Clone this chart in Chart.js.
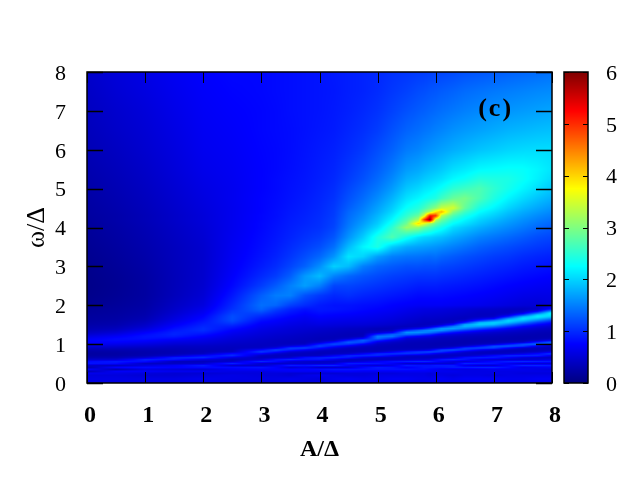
<!DOCTYPE html>
<html>
<head>
<meta charset="utf-8">
<style>
html,body{margin:0;padding:0;background:#fff;}
canvas{display:block;}
</style>
<script src="https://cdn.jsdelivr.net/npm/chart.js@4"></script>
</head>
<body>
<canvas id="map" width="640" height="480"></canvas>
<script>
// ---------- DATA ----------
const xTicks = [0,1,2,3,4,5,6,7,8];
const yTicks = [0,1,2,3,4,5,6,7,8];
const barTicks = [0,1,2,3,4,5,6];
const xTitle = "A/Δ";
const yTitle = "ω/Δ";
const panelLabel = "(c)";
const panelPos = [7.03,7.05];

// sample positions
const aValues = [0,.5,1,1.5,2,2.5,3,3.25,3.5,3.75,4,4.25,4.5,4.75,5,5.25,5.5,5.7,5.8,5.9,6,6.1,6.3,6.5,6.75,7,7.25,7.5,7.75,8];
const omegaValues = [0,.1,.2,.25,.3,.35,.4,.45,.5,.55,.6,.65,.7,.75,.8,.85,.9,.95,1,1.05,1.1,1.15,1.2,1.25,1.3,1.35,1.4,1.45,1.5,1.55,1.6,1.65,1.7,1.75,1.8,1.85,1.9,
  2,2.25,2.5,2.75,3,3.25,3.5,3.75,4,4.1,4.2,4.3,4.4,4.5,4.75,5,5.25,5.5,6,6.5,7,7.5,8];

// one list per A value, running up omegaValues
const columns = [
 [.55,.6,.55,.65,.3,.75,.3,.45,.85,.8,.45,.3,.22,.2,.22,.28,.4,.55,.68,.75,.75,.68,.58,.48,.4,.34,.3,.27,.24,.22,.2,.19,.18,.17,.16,.15,.15,
  .1,.07,.06,.07,.08,.1,.12,.14,.16,.17,.18,.19,.2,.2,.22,.24,.26,.28,.32,.35,.38,.41,.44],
 [.55,.6,.55,.6,.7,.3,.75,.4,.8,.9,.5,.32,.24,.22,.24,.3,.4,.52,.64,.74,.8,.78,.7,.6,.5,.42,.36,.32,.28,.26,.24,.22,.21,.2,.19,.18,.18,
  .16,.13,.12,.13,.15,.17,.19,.21,.23,.24,.25,.25,.26,.27,.29,.31,.33,.35,.39,.43,.46,.5,.53],
 [.55,.6,.5,.55,.7,.6,.8,.55,.4,.8,.95,.5,.3,.27,.27,.31,.38,.48,.58,.68,.77,.84,.85,.8,.72,.62,.54,.47,.42,.38,.34,.31,.29,.27,.26,.25,.24,
  .22,.2,.2,.21,.23,.25,.27,.29,.31,.32,.33,.33,.34,.35,.37,.39,.41,.43,.47,.5,.53,.57,.6],
 [.55,.6,.5,.5,.65,.55,.75,.7,.4,.35,.85,.95,.45,.32,.3,.32,.36,.41,.5,.58,.68,.8,.9,.95,.93,.88,.82,.76,.7,.65,.6,.56,.53,.5,.47,.45,.43,
  .4,.35,.34,.34,.35,.36,.37,.39,.41,.42,.43,.43,.44,.45,.47,.49,.51,.53,.56,.59,.62,.65,.68],
 [.55,.65,.55,.5,.65,.5,.8,.9,.45,.35,.55,1,.8,.4,.34,.35,.38,.41,.48,.54,.6,.67,.75,.84,.93,1,1,.97,.93,.89,.84,.8,.76,.72,.68,.65,.62,
  .56,.5,.47,.46,.46,.46,.47,.49,.51,.52,.53,.53,.54,.55,.57,.59,.61,.63,.66,.68,.7,.72,.74],
 [.55,.6,.6,.55,.6,.7,.8,.45,.95,.45,.35,.55,1,.85,.42,.36,.37,.39,.42,.46,.5,.54,.58,.63,.68,.74,.82,.9,1,1.1,1.18,1.2,1.2,1.17,1.12,1.08,1.03,
  .98,.87,.78,.73,.7,.68,.67,.66,.65,.65,.65,.65,.65,.65,.66,.66,.67,.68,.7,.72,.74,.76,.78],
 [.5,.6,.55,.55,.6,.75,.85,.45,.45,1,.5,.36,.38,.7,1.1,.8,.42,.38,.39,.41,.43,.46,.49,.52,.55,.58,.62,.66,.7,.75,.81,.88,.96,1.05,1.15,1.26,1.34,
  1.4,1.3,1.1,.98,.9,.85,.82,.8,.78,.78,.77,.77,.76,.76,.76,.75,.75,.75,.76,.77,.77,.78,.78],
 [.55,.6,.55,.55,.65,.75,.75,.65,.42,.8,.85,.4,.35,.45,.85,1.15,.6,.4,.38,.38,.4,.43,.45,.48,.51,.54,.57,.61,.66,.7,.74,.79,.85,.91,.98,1.05,1.13,
  1.35,1.48,1.28,1.1,1,.94,.9,.87,.85,.84,.83,.82,.82,.81,.8,.79,.79,.78,.78,.79,.79,.8,.8],
 [.55,.65,.5,.5,.7,.75,.5,.9,.45,.5,1,.5,.35,.36,.5,.95,1.1,.55,.38,.36,.38,.4,.42,.45,.48,.5,.53,.56,.6,.63,.67,.71,.75,.8,.85,.9,.95,
  1.12,1.5,1.5,1.3,1.15,1.06,1,.95,.92,.91,.9,.89,.88,.87,.85,.84,.83,.82,.81,.81,.82,.82,.82],
 [.55,.6,.6,.5,.7,.75,.6,.85,.45,.45,.85,.85,.38,.35,.42,.7,1.15,.75,.4,.35,.36,.37,.39,.41,.44,.47,.5,.53,.56,.59,.62,.65,.68,.72,.76,.8,.85,
  1,1.22,1.68,1.65,1.32,1.2,1.1,1.03,.98,.96,.95,.94,.93,.92,.9,.88,.87,.86,.85,.84,.84,.84,.84],
 [.6,.55,.65,.5,.7,.8,.45,.95,.45,.4,.85,.95,.42,.35,.36,.5,.85,1.15,.85,.45,.34,.34,.36,.38,.41,.44,.47,.52,.58,.62,.66,.7,.74,.78,.82,.86,.88,
  .9,1.08,1.5,1.85,1.58,1.35,1.2,1.1,1.03,1.02,1.01,1,.99,.98,.96,.94,.92,.91,.89,.87,.86,.86,.86],
 [.55,.65,.6,.5,.75,.85,.45,.95,.5,.4,.6,1,.7,.38,.35,.38,.55,.9,1.2,.8,.4,.34,.34,.36,.38,.41,.44,.5,.55,.59,.63,.67,.71,.75,.79,.83,.86,
  .85,.98,1.15,1.52,1.98,1.62,1.4,1.25,1.15,1.13,1.12,1.1,1.09,1.08,1.04,1.01,.98,.96,.93,.9,.89,.88,.89],
 [.55,.7,.55,.55,.75,.85,.5,.7,.9,.45,.38,.85,1,.45,.35,.34,.4,.65,1.1,1.3,.85,.42,.33,.33,.35,.38,.41,.47,.53,.57,.61,.65,.69,.73,.77,.8,.83,
  .85,1.02,1.15,1.35,1.85,2.1,1.85,1.62,1.48,1.44,1.41,1.38,1.35,1.3,1.22,1.16,1.1,1.06,1,.96,.93,.92,.92],
 [.6,.65,.55,.55,.7,.85,.75,.55,.9,.55,.38,.55,1,.7,.37,.33,.35,.45,.75,1.2,1.3,.7,.37,.33,.34,.36,.39,.45,.52,.56,.6,.63,.66,.7,.73,.76,.79,
  .82,.96,1.1,1.25,1.5,2,2.2,1.95,1.75,1.68,1.62,1.57,1.52,1.48,1.38,1.3,1.22,1.17,1.08,1.02,.98,.95,.95],
 [.6,.65,.6,.55,.7,.85,.9,.5,.85,.7,.38,.42,.95,1,.42,.33,.33,.36,.42,.6,1,1.4,1.45,.95,.48,.34,.34,.42,.49,.53,.57,.6,.63,.66,.69,.72,.75,
  .8,.92,1.05,1.18,1.35,1.68,2.4,2.4,2.05,1.95,1.88,1.82,1.75,1.7,1.57,1.46,1.37,1.3,1.2,1.1,1.04,1,.98],
 [.55,.7,.6,.55,.7,.85,.85,.6,.7,.85,.4,.38,.7,1.05,.65,.36,.33,.33,.36,.44,.65,1.05,1.45,1.3,.7,.4,.35,.38,.45,.49,.53,.56,.59,.62,.65,.68,.71,
  .75,.88,1,1.12,1.28,1.5,1.95,2.72,2.5,2.35,2.22,2.12,2.02,1.95,1.8,1.66,1.55,1.46,1.32,1.22,1.13,1.07,1.03],
 [.55,.7,.6,.6,.7,.85,.7,.9,.45,.95,.45,.38,.45,1.05,.95,.4,.33,.32,.33,.36,.42,.55,.9,1.4,1.6,1.05,.5,.36,.4,.44,.47,.5,.53,.56,.59,.62,.65,
  .72,.84,.96,1.08,1.22,1.44,1.76,2.35,3.15,2.9,2.7,2.52,2.4,2.28,2.08,1.92,1.78,1.66,1.47,1.33,1.22,1.13,1.06],
 [.55,.65,.6,.6,.7,.8,.8,.85,.45,1,.5,.38,.42,.95,1.1,.45,.33,.32,.32,.34,.39,.5,.75,1.25,1.6,1.35,.7,.4,.36,.4,.43,.46,.49,.52,.55,.58,.6,
  .7,.8,.92,1.05,1.22,1.42,1.7,2.1,3.1,3.95,3.25,2.85,2.6,2.45,2.2,2.02,1.86,1.73,1.53,1.39,1.28,1.19,1.09],
 [.55,.65,.6,.6,.7,.8,.85,.85,.45,1,.5,.38,.42,.85,1.15,.5,.33,.32,.32,.33,.38,.47,.68,1.1,1.55,1.5,.85,.45,.37,.38,.4,.43,.46,.5,.53,.56,.58,
  .7,.8,.92,1.05,1.2,1.4,1.68,2.02,2.85,3.6,4.9,3.5,2.95,2.62,2.28,2.1,1.93,1.79,1.58,1.43,1.31,1.21,1.1],
 [.6,.65,.55,.55,.7,.75,.85,.85,.45,.95,.55,.38,.4,.75,1.2,.6,.34,.31,.31,.33,.37,.45,.62,1,1.45,1.6,1.1,.55,.38,.37,.4,.43,.46,.49,.52,.55,.58,
  .7,.8,.92,1.05,1.2,1.38,1.65,1.98,2.7,3.2,6,5.2,3.3,2.85,2.35,2.15,1.98,1.84,1.62,1.46,1.34,1.24,1.12],
 [.55,.7,.6,.6,.65,.7,.85,.9,.48,.8,.75,.4,.38,.6,1.15,.9,.37,.31,.3,.32,.35,.4,.53,.82,1.3,1.62,1.4,.75,.42,.37,.39,.42,.45,.48,.51,.54,.57,
  .7,.8,.92,1.05,1.2,1.4,1.62,1.92,2.5,2.85,3.4,5,3.9,3.05,2.42,2.22,2.03,1.88,1.66,1.5,1.37,1.26,1.14],
 [.55,.7,.6,.6,.65,.65,.85,.9,.5,.7,.9,.42,.38,.5,1.05,1.15,.42,.32,.3,.31,.34,.38,.47,.68,1.1,1.6,1.65,1,.5,.38,.38,.41,.44,.47,.5,.53,.56,
  .7,.8,.9,1.03,1.16,1.34,1.58,1.88,2.35,2.6,2.9,3.3,4.2,3.4,2.6,2.3,2.08,1.93,1.7,1.53,1.4,1.29,1.15],
 [.6,.65,.55,.6,.65,.6,.9,.9,.5,.55,1,.55,.38,.45,.75,1.25,.65,.33,.3,.3,.32,.36,.42,.56,.85,1.3,1.7,1.5,.85,.45,.37,.38,.41,.44,.47,.5,.53,
  .68,.78,.88,1,1.13,1.28,1.5,1.75,2.05,2.25,2.45,2.7,3.05,3.5,2.85,2.5,2.22,2.05,1.77,1.6,1.45,1.33,1.18],
 [.55,.7,.6,.6,.6,.6,.9,.6,.95,.5,.85,.85,.42,.4,.5,1.05,1.1,.42,.31,.29,.3,.33,.38,.47,.68,1.05,1.5,1.8,1.75,.95,.5,.38,.38,.41,.44,.47,.5,
  .66,.76,.86,.97,1.09,1.22,1.42,1.65,1.92,2.08,2.22,2.38,2.6,2.85,2.95,2.6,2.3,2.12,1.83,1.65,1.5,1.38,1.22],
 [.6,.7,.6,.6,.6,.6,.95,.5,.9,.65,.6,.95,.55,.38,.38,.7,1.2,.75,.35,.3,.29,.31,.35,.42,.55,.8,1.2,1.65,1.95,1.85,1.05,.6,.4,.38,.39,.42,.46,
  .64,.73,.83,.93,1.04,1.16,1.32,1.52,1.78,1.9,2,2.12,2.25,2.4,2.7,2.7,2.45,2.22,1.9,1.7,1.55,1.42,1.25],
 [.6,.7,.55,.6,.6,.65,.95,.5,.85,.8,.5,.9,.8,.4,.34,.5,1.15,1.2,.45,.31,.29,.3,.33,.38,.47,.64,.95,1.4,1.85,2,1.55,.8,.45,.38,.39,.41,.44,
  .6,.7,.79,.89,.99,1.1,1.25,1.44,1.66,1.76,1.86,1.97,2.08,2.2,2.42,2.52,2.42,2.25,1.95,1.75,1.6,1.46,1.28],
 [.6,.65,.6,.6,.6,.65,.8,.75,.65,.95,.45,.7,1,.45,.35,.38,.75,1.3,.8,.35,.29,.29,.31,.35,.41,.52,.72,1.05,1.45,1.85,2.05,1.7,1,.55,.4,.38,.4,
  .56,.66,.75,.85,.95,1.06,1.19,1.36,1.56,1.64,1.72,1.81,1.9,2,2.2,2.36,2.4,2.28,2,1.8,1.63,1.49,1.32],
 [.6,.65,.6,.55,.6,.65,.6,.95,.5,1,.45,.5,1,.6,.36,.32,.45,1.15,1.2,.42,.3,.28,.29,.32,.37,.44,.56,.75,1.05,1.45,1.85,2.1,1.9,1.15,.6,.42,.38,
  .52,.62,.72,.81,.9,1,1.13,1.28,1.46,1.53,1.6,1.68,1.76,1.85,2.04,2.2,2.3,2.27,2.03,1.83,1.66,1.52,1.35],
 [.55,.7,.6,.55,.6,.6,.65,.95,.5,.95,.5,.42,.95,.8,.42,.33,.35,.65,1.4,.9,.38,.3,.29,.3,.33,.38,.46,.58,.78,1.05,1.45,1.85,2.15,2,1.3,.7,.42,
  .5,.6,.69,.78,.87,.96,1.08,1.2,1.36,1.43,1.5,1.57,1.65,1.73,1.9,2.06,2.17,2.2,2.05,1.86,1.69,1.55,1.38],
 [.55,.7,.6,.55,.6,.55,.7,.9,.5,.9,.6,.4,.6,1.1,.6,.35,.31,.4,1.05,1.35,.6,.33,.29,.29,.31,.35,.4,.48,.6,.78,1.05,1.45,1.9,2.15,2.25,1.6,.85,
  .55,.6,.67,.75,.84,.93,1.04,1.15,1.28,1.35,1.41,1.48,1.55,1.62,1.78,1.92,2.03,2.1,2.05,1.88,1.72,1.57,1.42]
];

// colour scale stops
const stopValues = [0,.75,2.25,3.75,5.25,6];
const stopColors = [[0,0,127],[0,0,255],[0,255,255],[255,255,0],[255,0,0],[127,0,0]];

// ---------- HELPERS ----------
function colorFor(v){
    let i = 0;
    while(i < stopValues.length-2 && v > stopValues[i+1]) i++;
    let t = (v-stopValues[i])/(stopValues[i+1]-stopValues[i]);
    t = Math.max(0,Math.min(1,t));
    return stopColors[i].map((c,k)=>Math.round(c+(stopColors[i+1][k]-c)*t));
}

function bracket(list,v){
    let i = 0;
    while(i < list.length-2 && v > list[i+1]) i++;
    let t = (v-list[i])/(list[i+1]-list[i]);
    return [i,Math.max(0,Math.min(1,t))];
}

function sampleAt(a,w){
    const [i,s] = bracket(aValues,a);
    const [j,t] = bracket(omegaValues,w);
    return (columns[i][j]*(1-s)+columns[i+1][j]*s)*(1-t)
         + (columns[i][j+1]*(1-s)+columns[i+1][j+1]*s)*t;
}

function tickLine(ctx,x0,y0,x1,y1){
    ctx.beginPath();
    ctx.moveTo(x0,y0);
    ctx.lineTo(x1,y1);
    ctx.stroke();
}

// ---------- HEAT MAP + COLOUR BAR ----------
const barLeft = 564, barRight = 588;

const heatPlugin = {
    id:"heat",
    beforeDatasetsDraw(chart){
        const {ctx,chartArea:area,scales} = chart;
        const w = Math.round(area.right-area.left);
        const h = Math.round(area.bottom-area.top);
        const img = ctx.createImageData(w,h);
        for(let py=0;py<h;py++){
            const om = scales.y.getValueForPixel(area.top+py+.5);
            for(let px=0;px<w;px++){
                const a = scales.x.getValueForPixel(area.left+px+.5);
                const c = colorFor(sampleAt(a,om));
                const p = (py*w+px)*4;
                img.data[p]=c[0]; img.data[p+1]=c[1]; img.data[p+2]=c[2]; img.data[p+3]=255;
            }
        }
        ctx.putImageData(img,Math.round(area.left),Math.round(area.top));

        for(let py=area.top;py<area.bottom;py++){
            const c = colorFor(scales.c.getValueForPixel(py+.5));
            ctx.fillStyle = `rgb(${c[0]},${c[1]},${c[2]})`;
            ctx.fillRect(barLeft,py,barRight-barLeft,1);
        }
    },
    afterDatasetsDraw(chart){
        const {ctx,chartArea:area,scales} = chart;
        ctx.save();
        ctx.strokeStyle = "#000";
        ctx.lineWidth = 1;

        scales.x.ticks.forEach(t=>{
            const px = Math.round(scales.x.getPixelForValue(t.value))+.5;
            tickLine(ctx,px,area.bottom,px,area.bottom-11);
            tickLine(ctx,px,area.top,px,area.top+11);
        });
        ctx.lineWidth = 1.5;
        scales.y.ticks.forEach(t=>{
            const py = Math.round(scales.y.getPixelForValue(t.value))+.5;
            tickLine(ctx,area.left,py,area.left+16,py);
            tickLine(ctx,area.right,py,area.right-16,py);
        });
        ctx.lineWidth = 1;
        scales.c.ticks.forEach(t=>{
            const py = Math.round(scales.c.getPixelForValue(t.value))+.5;
            tickLine(ctx,barLeft,py,barLeft+5,py);
            tickLine(ctx,barRight,py,barRight-5,py);
        });

        ctx.lineWidth = 1.5;
        ctx.strokeRect(area.left,area.top,area.right-area.left,area.bottom-area.top);
        ctx.strokeRect(barLeft,area.top,barRight-barLeft,area.bottom-area.top);

        ctx.fillStyle = "#000";
        ctx.font = "bold 26px 'Liberation Serif'";
        ctx.letterSpacing = "2px";
        ctx.textAlign = "center";
        ctx.textBaseline = "middle";
        ctx.fillText(panelLabel,scales.x.getPixelForValue(panelPos[0]),scales.y.getPixelForValue(panelPos[1]));
        ctx.restore();
    }
};

// ---------- CHART ----------
const points = [];
aValues.forEach((a,i)=>omegaValues.forEach((w,j)=>points.push({x:a,y:w,v:columns[i][j]})));

function tickCallback(list){
    return function(scale){
        scale.ticks = list.map(v=>({value:v}));
    };
}

new Chart(document.getElementById("map"),{
    type:"scatter",
    data:{datasets:[{data:points,pointRadius:0,pointHoverRadius:0}]},
    options:{
        responsive:false,
        animation:false,
        events:[],
        layout:{padding:{top:72,left:0,right:0,bottom:0}},
        plugins:{legend:{display:false},tooltip:{enabled:false}},
        scales:{
            x:{
                type:"linear",min:0,max:8,
                afterBuildTicks:tickCallback(xTicks),
                afterFit(s){s.height=97;},
                grid:{display:false,drawTicks:false},
                border:{display:false},
                ticks:{color:"#000",padding:18,labelOffset:3,maxRotation:0,font:{family:"Liberation Serif",size:24,weight:"bold"}},
                title:{display:true,text:xTitle,color:"#000",padding:{top:0,bottom:15.5},font:{family:"Liberation Serif",size:24,weight:"bold"}}
            },
            y:{
                type:"linear",min:0,max:8,
                afterBuildTicks:tickCallback(yTicks),
                afterFit(s){s.width=87;},
                grid:{display:false,drawTicks:false},
                border:{display:false},
                ticks:{color:"#000",padding:21,labelOffset:2,font:{family:"Liberation Serif",size:22}},
                title:{display:true,text:yTitle,color:"#000",padding:{top:21.5,bottom:0},font:{family:"Liberation Serif",size:26}}
            },
            c:{
                type:"linear",axis:"y",position:"right",min:0,max:6,
                afterBuildTicks:tickCallback(barTicks),
                afterFit(s){s.width=88;},
                grid:{display:false,drawTicks:false},
                border:{display:false},
                ticks:{color:"#000",padding:54,labelOffset:2,font:{family:"Liberation Serif",size:22}}
            }
        }
    },
    plugins:[heatPlugin]
});
</script>
</body>
</html>
